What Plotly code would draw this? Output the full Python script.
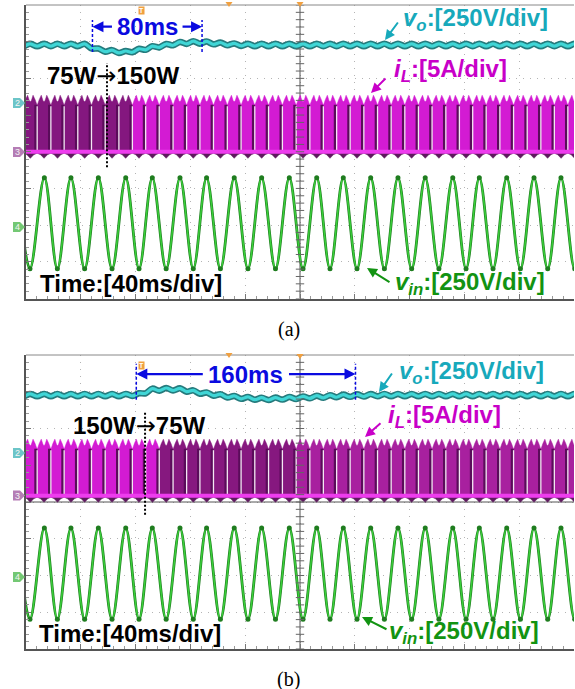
import numpy as np
import plotly.graph_objects as go

W, H = 575, 689

# ---- scope settings -------------------------------------------------------
MS_PER_DIV = 40
X_RANGE = [0, 10 * MS_PER_DIV]
Y_RANGE = [-4, 4]
VIN_SCALE = 250.0   # V/div
VO_SCALE = 250.0    # V/div
IL_SCALE = 5.0      # A/div

# ---- data ----------------------------------------------------------------
# input voltage extremes, ms from the left edge of the screen
vin_peak_ms = [-6.6, 13.4, 32.8, 52.8, 72.8, 92.2, 112.4, 131.8, 152.0, 172.0, 192.2,
               212.2, 231.6, 251.6, 271.5, 291.4, 311.5, 330.9, 350.9, 370.8, 390.5, 410.3]
vin_trough_ms = [2.9, 22.9, 42.8, 62.8, 82.5, 102.3, 122.1, 141.9, 162.0, 182.1, 202.2,
                 221.9, 241.6, 261.6, 281.5, 301.4, 321.2, 340.9, 360.9, 380.8, 400.5]
VIN_PEAK_V = 310.0
VIN_TROUGH_V = -310.0

# output voltage level at each input-voltage extreme (V), ripple amplitude (V)
VO_RIPPLE_V = 8.0
vo_levels_a = [400, 400, 400, 400, 400, 400, 368, 357, 351, 366, 384, 399, 413, 418, 416,
               409, 403, 400] + [400] * 25
vo_levels_b = [400] * 9 + [404, 436, 440, 438, 424, 410, 398, 386, 379, 374, 375, 379,
                           383, 388, 391, 395, 397, 399] + [400] * 16

# inductor current envelope over one half line cycle (phase, A)
il_top_phase = [0.0, 0.15, 0.3, 0.42, 0.5, 0.58, 0.7, 0.85, 1.0]
il_top_amp = [6.3, 7.1, 7.7, 7.0, 6.8, 7.0, 7.7, 7.1, 6.3]
il_low_phase = [0.0, 0.25, 0.5, 0.75, 1.0]
il_low_amp = [-0.2, -0.4, -0.9, -0.4, -0.2]

# channel positions (div)
positions = {
    "a": {"vo": 1.31, "il": 0.0, "vin": -1.95},
    "b": {"vo": 1.31, "il": 0.17, "vin": -1.95},
}

# load step events: step time, measured interval start and length (ms)
step_ms = {"a": 59.1, "b": 86.9}
interval_start_ms = {"a": 48.5, "b": 80.5}
interval_len_ms = {"a": 80, "b": 160}
step_text = {"a": ("75W", "150W"), "b": ("150W", "75W")}

# intensity of the current trace by time span
il_shades = {
    "a": [(-50, 76, "#84177f"), (76, 450, "#d31bd3")],
    "b": [(-50, 100, "#d31bd3"), (100, 200, "#86187f"), (200, 450, "#a8209f")],
}

# screen rectangles in pixels (left, top, right, bottom)
screens = {"a": (26, 5, 574, 298.5), "b": (26, 355, 574, 649)}

C_VO = "#17a9bb"
C_IL = "#c800c8"
C_VIN = "#129312"
C_BLUE = "#0a0ae0"
FONT = "Liberation Sans"


def paper(px, py):
    return px / W, 1 - py / H


extremes = sorted([(t, VIN_PEAK_V) for t in vin_peak_ms] +
                  [(t, VIN_TROUGH_V) for t in vin_trough_ms])
ext_t = np.array([e[0] for e in extremes])
ext_v = np.array([e[1] for e in extremes])
zero_t = (ext_t[:-1] + ext_t[1:]) / 2.0

fig = go.Figure()
shapes = []
annotations = []

for idx, key in enumerate(["a", "b"]):
    xa = "x" if idx == 0 else "x2"
    ya = "y" if idx == 0 else "y2"
    pos = positions[key]

    # --- inductor current band ---
    base = pos["il"]
    for (t0, t1, col) in il_shades[key]:
        xs, ys = [], []
        for k in range(len(zero_t) - 1):
            za, zb = zero_t[k], zero_t[k + 1]
            mid = 0.5 * (za + zb)
            if not (t0 <= mid < t1):
                continue
            xs += [za] + [za + p * (zb - za) for p in il_top_phase] + [zb, None]
            ys += [base] + [base + a / IL_SCALE for a in il_top_amp] + [base, None]
        fig.add_trace(go.Scatter(x=xs, y=ys, xaxis=xa, yaxis=ya, mode="lines",
                                 fill="toself", fillcolor=col,
                                 line=dict(color=col, width=0.5), hoverinfo="skip"))
    # below-zero switching fuzz
    xs, ys = [], []
    for k in range(len(zero_t) - 1):
        za, zb = zero_t[k], zero_t[k + 1]
        xs += [za + p * (zb - za) for p in il_low_phase]
        ys += [base + a / IL_SCALE for a in il_low_amp]
    fig.add_trace(go.Scatter(x=xs + xs[::-1], y=ys + [base] * len(xs), xaxis=xa, yaxis=ya,
                             mode="lines", fill="toself", fillcolor="#5e1a5e",
                             line=dict(color="#5e1a5e", width=0.5), hoverinfo="skip"))
    # dark stripe and gap at each zero crossing
    sx, sy, gx, gy = [], [], [], []
    for z in zero_t:
        sx += [z - 1.0, z - 1.0, None]
        sy += [base, base + 6.4 / IL_SCALE, None]
        gx += [z, z, None]
        gy += [base + 0.05, base + 6.2 / IL_SCALE, None]
    fig.add_trace(go.Scatter(x=sx, y=sy, xaxis=xa, yaxis=ya, mode="lines",
                             line=dict(color="#5a0c5a", width=3), hoverinfo="skip"))
    fig.add_trace(go.Scatter(x=gx, y=gy, xaxis=xa, yaxis=ya, mode="lines",
                             line=dict(color="#f4e8f4", width=1.3), hoverinfo="skip"))
    # zero-current line
    fig.add_trace(go.Scatter(x=[-10, 410], y=[base, base], xaxis=xa, yaxis=ya, mode="lines",
                             line=dict(color="#ee3cee", width=4), hoverinfo="skip"))

    # --- output voltage ---
    lv = np.array(vo_levels_a if key == "a" else vo_levels_b, dtype=float)
    vx, vy = [], []
    for k in range(len(ext_t)):
        vx.append(ext_t[k])
        vy.append((lv[k] + VO_RIPPLE_V) / VO_SCALE + pos["vo"])
        if k < len(zero_t):
            vx.append(zero_t[k])
            vy.append(((lv[k] + lv[k + 1]) / 2 - VO_RIPPLE_V) / VO_SCALE + pos["vo"])
    fig.add_trace(go.Scatter(x=vx, y=vy, xaxis=xa, yaxis=ya, mode="lines",
                             line=dict(color="#257b7d", width=6.5, shape="spline"),
                             hoverinfo="skip"))
    fig.add_trace(go.Scatter(x=vx, y=vy, xaxis=xa, yaxis=ya, mode="lines",
                             line=dict(color="#40d6d6", width=3.2, shape="spline"),
                             hoverinfo="skip"))

    # --- input voltage ---
    vin_y = ext_v / VIN_SCALE + pos["vin"]
    fig.add_trace(go.Scatter(x=ext_t, y=vin_y, xaxis=xa, yaxis=ya, mode="lines",
                             line=dict(color="#1f7d1f", width=2.8, shape="spline",
                                       smoothing=1.0),
                             hoverinfo="skip"))
    fig.add_trace(go.Scatter(x=ext_t, y=vin_y, xaxis=xa, yaxis=ya, mode="lines+markers",
                             line=dict(color="#3bcf3b", width=1.5, shape="spline",
                                       smoothing=1.0),
                             marker=dict(size=5, color="#1f7d1f"),
                             hoverinfo="skip"))

    # --- graticule centre lines ---
    cx = 0.5 * (X_RANGE[0] + X_RANGE[1])
    shapes.append(dict(type="line", xref=xa, yref=ya, x0=cx, x1=cx, y0=Y_RANGE[0],
                       y1=Y_RANGE[1], line=dict(color="#555", width=1), layer="between"))
    shapes.append(dict(type="line", xref=xa, yref=ya, x0=X_RANGE[0], x1=X_RANGE[1],
                       y0=0, y1=0, line=dict(color="#555", width=1), layer="between"))
    ty = np.arange(Y_RANGE[0], Y_RANGE[1] + 1e-9, 0.2)
    fig.add_trace(go.Scatter(x=[cx] * len(ty), y=ty, xaxis=xa, yaxis=ya, mode="markers",
                             marker=dict(symbol="line-ew", size=6,
                                         line=dict(color="#666", width=1)),
                             hoverinfo="skip"))

    # --- screen border (top) ---
    l, t, r, b = screens[key]
    shapes.append(dict(type="line", xref="paper", yref="paper",
                       x0=l / W, x1=r / W, y0=1 - t / H, y1=1 - t / H,
                       line=dict(color="#888", width=1)))

    # --- load-step marker ---
    y_top = 2.42 if key == "a" else 2.45
    y_bot = -0.42 if key == "a" else -0.35
    shapes.append(dict(type="line", xref=xa, yref=ya, x0=step_ms[key], x1=step_ms[key],
                       y0=y_bot, y1=y_top, line=dict(color="black", width=2, dash="2px,2px")))

    # --- interval marker ---
    s0 = interval_start_ms[key]
    s1 = s0 + interval_len_ms[key]
    ay_div = 3.41 if key == "a" else 3.48
    dl = (2.72, 3.59) if key == "a" else (2.78, 3.76)
    for xv in (s0, s1):
        shapes.append(dict(type="line", xref=xa, yref=ya, x0=xv, x1=xv, y0=dl[0], y1=dl[1],
                           line=dict(color=C_BLUE, width=1.5, dash="3px,2px")))
    tail = 21 if key == "a" else 68
    annotations.append(dict(x=s0, y=ay_div, xref=xa, yref=ya, text="", showarrow=True,
                            ax=tail, ay=0, arrowhead=2, arrowsize=1, arrowwidth=2.2,
                            arrowcolor=C_BLUE))
    annotations.append(dict(x=s1, y=ay_div, xref=xa, yref=ya, text="", showarrow=True,
                            ax=-tail, ay=0, arrowhead=2, arrowsize=1, arrowwidth=2.2,
                            arrowcolor=C_BLUE))
    annotations.append(dict(x=0.5 * (s0 + s1), y=ay_div, xref=xa, yref=ya,
                            text="<b>%dms</b>" % interval_len_ms[key], showarrow=False,
                            xanchor="center", yanchor="middle",
                            font=dict(family=FONT, size=24, color=C_BLUE)))

# ---- axes ----------------------------------------------------------------
def xaxis(anchor):
    return dict(range=X_RANGE, anchor=anchor, domain=[26 / W, 574 / W], dtick=MS_PER_DIV,
                tick0=0, showgrid=True, gridcolor="#b4b4b4", griddash="1px,6px",
                zeroline=False, showticklabels=False, ticks="inside", ticklen=5,
                tickcolor="#777", showline=True, linecolor="#555", linewidth=1.5,
                minor=dict(dtick=MS_PER_DIV / 5, ticks="inside", ticklen=3,
                           tickcolor="#999", showgrid=False),
                fixedrange=True)


def yaxis(anchor, top, bottom):
    return dict(range=Y_RANGE, anchor=anchor, domain=[1 - bottom / H, 1 - top / H], dtick=1,
                tick0=0, showgrid=True, gridcolor="#b4b4b4", griddash="1px,6px",
                zeroline=False, showticklabels=False, ticks="inside", ticklen=5,
                tickcolor="#777", showline=True, linecolor="#555", linewidth=1.5,
                minor=dict(dtick=0.2, ticks="inside", ticklen=3, tickcolor="#999",
                           showgrid=False),
                fixedrange=True)


# ---- text labels -----------------------------------------------------------
def label(px, py, text, color, size=24):
    x, y = paper(px, py)
    annotations.append(dict(x=x, y=y, xref="paper", yref="paper", text=text,
                            showarrow=False, xanchor="left", yanchor="middle",
                            font=dict(family=FONT, size=size, color=color)))


def pointer(hx, hy, tx, ty, color):
    x, y = paper(hx, hy)
    annotations.append(dict(x=x, y=y, xref="paper", yref="paper", text="", showarrow=True,
                            ax=tx - hx, ay=ty - hy, arrowhead=2, arrowsize=1,
                            arrowwidth=2, arrowcolor=color))


VO_TXT = "<b><i>v</i><sub><i>o</i></sub>:[250V/div]</b>"
IL_TXT = "<b><i>i</i><sub><i>L</i></sub>:[5A/div]</b>"
VIN_TXT = "<b><i>v</i><sub><i>in</i></sub>:[250V/div]</b>"
TIME_TXT = "<b>Time:[40ms/div]</b>"
STEP_FMT = "<b>%s</b><span style='font-family:DejaVu Sans'>→</span><b>%s</b>"

# panel (a)
label(401, 20, VO_TXT, C_VO)
pointer(385, 40, 399, 21, C_VO)
label(392, 70, IL_TXT, C_IL)
pointer(371, 93, 387, 77, C_IL)
label(393, 283, VIN_TXT, C_VIN)
pointer(367, 268, 391, 283, C_VIN)
label(38, 283, TIME_TXT, "black")
label(45, 76, STEP_FMT % step_text["a"], "black")

# panel (b)
label(397, 372, VO_TXT, C_VO)
pointer(379, 392, 393, 372, C_VO)
label(386, 416, IL_TXT, C_IL)
pointer(365, 437, 382, 422, C_IL)
label(387, 632, VIN_TXT, C_VIN)
pointer(362, 617, 388, 630, C_VIN)
label(37, 633, TIME_TXT, "black")
label(71, 426, STEP_FMT % step_text["b"], "black")

# captions
for cap, cy in (("(a)", 329.5), ("(b)", 679)):
    x, y = paper(288.5, cy)
    annotations.append(dict(x=x, y=y, xref="paper", yref="paper", text=cap, showarrow=False,
                            xanchor="center", yanchor="middle",
                            font=dict(family="Liberation Serif", size=20, color="black")))

# channel markers on the left edge of each screen
for ch, cy, col in (("2", 103, "#6cc5c8"), ("3", 152, "#b57db5"), ("4", 227, "#74c874"),
                    ("2", 453, "#6cc5c8"), ("3", 495.5, "#b57db5"), ("4", 577, "#74c874")):
    pts = [(13, cy - 5), (20, cy - 5), (25, cy), (20, cy + 5), (13, cy + 5)]
    path = "M " + " L ".join("%.5f,%.5f" % paper(px, py) for px, py in pts) + " Z"
    shapes.append(dict(type="path", xref="paper", yref="paper", path=path, fillcolor=col,
                       line=dict(width=0)))
    x, y = paper(17.5, cy)
    annotations.append(dict(x=x, y=y, xref="paper", yref="paper", text=ch, showarrow=False,
                            xanchor="center", yanchor="middle",
                            font=dict(family=FONT, size=9, color="#f4f4f4")))

# trigger flags and top-edge markers
for ty_px in (11, 365):
    x, y = paper(141, ty_px)
    annotations.append(dict(x=x, y=y, xref="paper", yref="paper", text="<b>T</b>",
                            showarrow=False, bgcolor="#f0a040", borderpad=0,
                            xanchor="center", yanchor="middle",
                            font=dict(family=FONT, size=7, color="white")))
for px, py in ((229, 4), (300, 4), (229, 355), (300, 356)):
    pts = [(px - 3.5, py - 2), (px + 3.5, py - 2), (px, py + 3)]
    path = "M " + " L ".join("%.5f,%.5f" % paper(a, b) for a, b in pts) + " Z"
    shapes.append(dict(type="path", xref="paper", yref="paper", path=path,
                       fillcolor="#f0a040", line=dict(width=0)))

fig.update_layout(
    width=W, height=H, margin=dict(l=0, r=0, t=0, b=0),
    paper_bgcolor="white", plot_bgcolor="white", showlegend=False,
    xaxis=xaxis("y"), yaxis=yaxis("x", *screens["a"][1::2]),
    xaxis2=xaxis("y2"), yaxis2=yaxis("x2", *screens["b"][1::2]),
    shapes=shapes, annotations=annotations,
)

fig.write_html("out.html")
